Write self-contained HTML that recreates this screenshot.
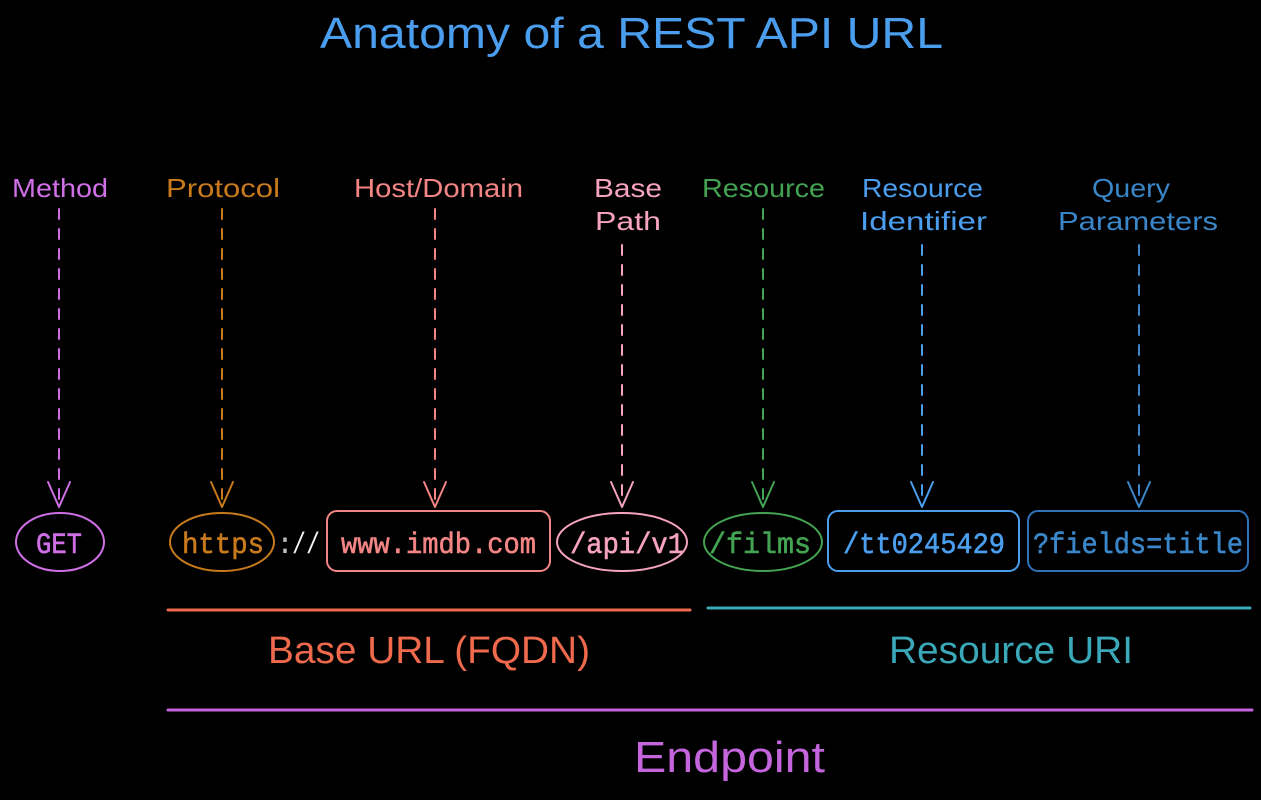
<!DOCTYPE html>
<html>
<head>
<meta charset="utf-8">
<style>
  html,body{margin:0;padding:0;background:#000;}
  svg{display:block;}
  .hand{font-family:"Liberation Sans",sans-serif;}
  .mono{font-family:"Liberation Mono","DejaVu Sans Mono",monospace;font-size:30px;}
</style>
</head>
<body>
<svg width="1261" height="800" viewBox="0 0 1261 800" xmlns="http://www.w3.org/2000/svg">
  <rect x="0" y="0" width="1261" height="800" fill="#000"/>

  <!-- Title -->
  <text class="hand" x="320" y="48" font-size="44" fill="#4a9eed" textLength="623" lengthAdjust="spacingAndGlyphs">Anatomy of a REST API URL</text>

  <!-- Labels -->
  <g class="hand" font-size="26">
    <text x="12" y="197" fill="#cf6fe6" textLength="96" lengthAdjust="spacingAndGlyphs">Method</text>
    <text x="166" y="197" fill="#c87a1c" textLength="114" lengthAdjust="spacingAndGlyphs">Protocol</text>
    <text x="354" y="197" fill="#f38585" textLength="169" lengthAdjust="spacingAndGlyphs">Host/Domain</text>
    <text x="594" y="197" fill="#f5a3c0" textLength="68" lengthAdjust="spacingAndGlyphs">Base</text>
    <text x="595" y="230" fill="#f5a3c0" textLength="66" lengthAdjust="spacingAndGlyphs">Path</text>
    <text x="702" y="197" fill="#43a352" textLength="123" lengthAdjust="spacingAndGlyphs">Resource</text>
    <text x="862" y="197" fill="#4a9eed" textLength="121" lengthAdjust="spacingAndGlyphs">Resource</text>
    <text x="860" y="230" fill="#4a9eed" textLength="127" lengthAdjust="spacingAndGlyphs">Identifier</text>
    <text x="1092" y="197" fill="#3a86c8" textLength="78" lengthAdjust="spacingAndGlyphs">Query</text>
    <text x="1058" y="230" fill="#3a86c8" textLength="160" lengthAdjust="spacingAndGlyphs">Parameters</text>
  </g>

  <!-- Dashed arrows -->
  <g fill="none" stroke-width="2" stroke-linecap="round" stroke-linejoin="round">
    <g stroke="#cf6fe6">
      <line x1="59" y1="209" x2="59" y2="504" stroke-dasharray="10 10"/>
      <polyline points="48,482 59,507 70,482"/>
    </g>
    <g stroke="#c87a1c">
      <line x1="222" y1="209" x2="222" y2="504" stroke-dasharray="10 10"/>
      <polyline points="211,482 222,507 233,482"/>
    </g>
    <g stroke="#f38585">
      <line x1="435" y1="209" x2="435" y2="504" stroke-dasharray="10 10"/>
      <polyline points="424,482 435,507 446,482"/>
    </g>
    <g stroke="#f5a3c0">
      <line x1="622" y1="245" x2="622" y2="504" stroke-dasharray="10 10"/>
      <polyline points="611,482 622,507 633,482"/>
    </g>
    <g stroke="#43a352">
      <line x1="763" y1="209" x2="763" y2="504" stroke-dasharray="10 10"/>
      <polyline points="752,482 763,507 774,482"/>
    </g>
    <g stroke="#4a9eed">
      <line x1="922" y1="245" x2="922" y2="504" stroke-dasharray="10 10"/>
      <polyline points="911,482 922,507 933,482"/>
    </g>
    <g stroke="#3a86c8">
      <line x1="1139" y1="245" x2="1139" y2="504" stroke-dasharray="10 10"/>
      <polyline points="1128,482 1139,507 1150,482"/>
    </g>
  </g>

  <!-- Nodes -->
  <g fill="none" stroke-width="2">
    <ellipse cx="60" cy="542" rx="44" ry="29" stroke="#cf6fe6"/>
    <ellipse cx="222" cy="542" rx="52" ry="29" stroke="#c87a1c"/>
    <rect x="327" y="511" width="223" height="60" rx="10" stroke="#f38585"/>
    <ellipse cx="622" cy="542" rx="65" ry="29" stroke="#f5a3c0"/>
    <ellipse cx="763" cy="542" rx="59" ry="29" stroke="#43a352"/>
    <rect x="828" y="511" width="191" height="60" rx="10" stroke="#4a9eed"/>
    <rect x="1028" y="511" width="220" height="60" rx="10" stroke="#2f72b8"/>
  </g>

  <g class="mono" stroke-width="0.6">
    <text x="36" y="553" fill="#cf6fe6" stroke="#cf6fe6" textLength="46" lengthAdjust="spacingAndGlyphs">GET</text>
    <text x="182" y="553" fill="#c87a1c" stroke="#c87a1c" textLength="82" lengthAdjust="spacingAndGlyphs">https</text>
    <text x="341" y="553" fill="#f38585" stroke="#f38585" textLength="195" lengthAdjust="spacingAndGlyphs">www.imdb.com</text>
    <text x="570" y="553" fill="#f5a3c0" stroke="#f5a3c0" textLength="114" lengthAdjust="spacingAndGlyphs">/api/v1</text>
    <text x="709" y="553" fill="#43a352" stroke="#43a352" textLength="102" lengthAdjust="spacingAndGlyphs">/films</text>
    <text x="843" y="553" fill="#4a9eed" stroke="#4a9eed" textLength="162" lengthAdjust="spacingAndGlyphs">/tt0245429</text>
    <text x="1033" y="553" fill="#3a86c8" stroke="#3a86c8" textLength="210" lengthAdjust="spacingAndGlyphs">?fields=title</text>
  </g>
  <text class="mono" x="276" y="553" fill="#bbbbbb" font-size="28">:</text>
  <text class="mono" x="292" y="553" fill="#f0f0f0" font-size="28" textLength="28" lengthAdjust="spacingAndGlyphs">//</text>

  <!-- Grouping lines -->
  <g stroke-width="3" stroke-linecap="round">
    <line x1="168" y1="610" x2="690" y2="610" stroke="#ef6a4c"/>
    <line x1="708" y1="608" x2="1250" y2="608" stroke="#3aa8b8"/>
    <line x1="168" y1="710" x2="1252" y2="710" stroke="#c565dd"/>
  </g>

  <!-- Group labels -->
  <g class="hand">
    <text x="268" y="663" font-size="38" fill="#ef6a4c" textLength="322" lengthAdjust="spacingAndGlyphs">Base URL (FQDN)</text>
    <text x="889" y="663" font-size="38" fill="#3aa8b8" textLength="244" lengthAdjust="spacingAndGlyphs">Resource URI</text>
    <text x="634" y="772" font-size="44" fill="#c565dd" textLength="191" lengthAdjust="spacingAndGlyphs">Endpoint</text>
  </g>
</svg>
</body>
</html>
